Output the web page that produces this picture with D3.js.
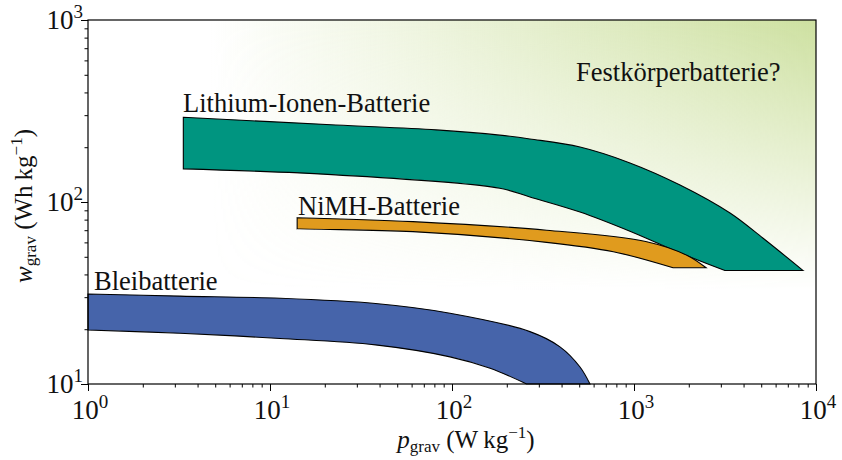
<!DOCTYPE html>
<html>
<head>
<meta charset="utf-8">
<script src="https://cdn.jsdelivr.net/npm/d3@7.9.0/dist/d3.min.js"></script>
<style>
  body { margin: 0; background: #fff; }
  svg text { font-family: "Liberation Serif", "Times New Roman", Times, "DejaVu Serif", serif; fill: #111; }
</style>
</head>
<body>
<svg id="chart" width="842" height="460"></svg>
<script>
// values (p in W/kg, w in Wh/kg)
const liTop = [[3.34, 292], [23, 265], [82, 249], [183, 233], [268, 222], [505, 200.5], [950, 164], [1790, 124], [3370, 87], [5100, 63.4], [8500, 42]];
const liBottom = [[3.34, 152], [23, 141], [183, 119], [268, 106.5], [505, 88], [950, 69], [1790, 52.5], [3160, 42]];
const nimhTop = [[14.1, 82], [61, 78], [331, 70], [1175, 60.5], [1950, 51], [2490, 43.5]];
const nimhBottom = [[14.1, 71], [61, 68.7], [331, 60], [770, 53.3], [1640, 43.5]];
const bleiTop = [[1, 31.2], [3.2, 30.4], [11.35, 29.6], [38, 27.7], [97.5, 24.5], [268, 19.4], [392, 16], [505, 12.4], [573, 10]];
const bleiBottom = [[1, 19.8], [3.2, 19], [11.35, 17.8], [38, 16.4], [97.5, 14.1], [162, 12.2], [257, 10]];

const bands = [
  { name: 'Lithium-Ionen-Batterie', top: liTop, bottom: liBottom, color: '#009580', label: [183, 112] },
  { name: 'NiMH-Batterie', top: nimhTop, bottom: nimhBottom, color: '#e09b1e', label: [298, 215] },
  { name: 'Bleibatterie', top: bleiTop, bottom: bleiBottom, color: '#4664aa', label: [94, 290] }
];

const xMajor = [1, 10, 100, 1000, 10000];
const yMajor = [10, 100, 1000];

const margin = { left: 88, right: 26, top: 20, bottom: 76 };
const width = 842, height = 460;

const svg = d3.select('#chart');
const x = d3.scaleLog().domain([1, 1e4]).range([margin.left, width - margin.right]);
const y = d3.scaleLog().domain([10, 1000]).range([height - margin.bottom, margin.top]);

// background gradient (Festkörper area)
const defs = svg.append('defs');
const hg = defs.append('linearGradient').attr('id', 'hgrad')
  .attr('gradientUnits', 'userSpaceOnUse')
  .attr('x1', 210).attr('x2', x(1e4)).attr('y1', 0).attr('y2', 0);
hg.append('stop').attr('offset', 0).attr('stop-color', '#cde0a0').attr('stop-opacity', 0);
hg.append('stop').attr('offset', 1).attr('stop-color', '#cde0a0').attr('stop-opacity', 1);
const vg = defs.append('linearGradient').attr('id', 'vgrad')
  .attr('gradientUnits', 'userSpaceOnUse')
  .attr('x1', 0).attr('x2', 0).attr('y1', y(1000)).attr('y2', 290);
vg.append('stop').attr('offset', 0).attr('stop-color', '#fff');
vg.append('stop').attr('offset', 1).attr('stop-color', '#000');
defs.append('mask').attr('id', 'vmask')
  .append('rect').attr('x', 0).attr('y', 0).attr('width', width).attr('height', height)
  .attr('fill', 'url(#vgrad)');

svg.append('rect')
  .attr('x', x(1)).attr('y', y(1000))
  .attr('width', x(1e4) - x(1)).attr('height', y(10) - y(1000))
  .attr('fill', 'url(#hgrad)').attr('mask', 'url(#vmask)');

// bands
const line = d3.line().x(d => x(d[0])).y(d => y(d[1])).curve(d3.curveCatmullRom.alpha(0.5));
bands.forEach(b => {
  const topD = line(b.top);
  const botD = line(b.bottom.slice().reverse()).replace(/^M/, 'L');
  svg.append('path')
    .attr('d', topD + botD + 'Z')
    .attr('fill', b.color)
    .attr('stroke', '#000')
    .attr('stroke-width', 1.1);
  svg.append('text')
    .attr('x', b.label[0]).attr('y', b.label[1])
    .attr('font-size', 26.5)
    .text(b.name);
});

svg.append('text')
  .attr('x', 576).attr('y', 81)
  .attr('font-size', 26.5)
  .text('Festkörperbatterie?');

// axes
const minorX = x.ticks().filter(v => !xMajor.includes(v));
const minorY = y.ticks().filter(v => !yMajor.includes(v));

const gx = svg.append('g').attr('transform', `translate(0,${y(10)})`);
gx.call(d3.axisBottom(x).tickValues(xMajor).tickSize(7).tickFormat(''));
gx.call(g => g.append('g').call(d3.axisBottom(x).tickValues(minorX).tickSize(3.5).tickFormat('')));
const gy = svg.append('g').attr('transform', `translate(${x(1)},0)`);
gy.call(d3.axisLeft(y).tickValues(yMajor).tickSize(7).tickFormat(''));
gy.call(g => g.append('g').call(d3.axisLeft(y).tickValues(minorY).tickSize(3.5).tickFormat('')));
svg.selectAll('.domain').remove();
svg.selectAll('.tick line').attr('stroke', '#000').attr('stroke-width', 1);

// frame
svg.append('rect')
  .attr('x', x(1)).attr('y', y(1000))
  .attr('width', x(1e4) - x(1)).attr('height', y(10) - y(1000))
  .attr('fill', 'none').attr('stroke', '#000').attr('stroke-width', 1.2);

// tick labels
function powLabel(sel, exp) {
  sel.append('tspan').text('10');
  sel.append('tspan').attr('dy', -11).attr('font-size', 19).text(exp);
}
xMajor.forEach(v => {
  const t = svg.append('text')
    .attr('x', x(v) + 2).attr('y', y(10) + 35)
    .attr('font-size', 27)
    .attr('text-anchor', 'middle');
  powLabel(t, Math.round(Math.log10(v)));
});
yMajor.forEach(v => {
  const t = svg.append('text')
    .attr('x', x(1) - 5).attr('y', y(v) + 9)
    .attr('font-size', 27)
    .attr('text-anchor', 'end');
  powLabel(t, Math.round(Math.log10(v)));
});

// axis titles
const xt = svg.append('text')
  .attr('x', 466).attr('y', 448)
  .attr('font-size', 25)
  .attr('text-anchor', 'middle');
xt.append('tspan').attr('font-style', 'italic').text('p');
xt.append('tspan').attr('font-size', 17).attr('dy', 4).text('grav');
xt.append('tspan').attr('dy', -4).text(' (W\u2009kg');
xt.append('tspan').attr('font-size', 17).attr('dy', -10).text('\u22121');
xt.append('tspan').attr('dy', 10).text(')');

const yt = svg.append('text')
  .attr('transform', `translate(32,${(y(10) + y(1000)) / 2 + 4}) rotate(-90)`)
  .attr('font-size', 25)
  .attr('text-anchor', 'middle');
yt.append('tspan').attr('font-style', 'italic').text('w');
yt.append('tspan').attr('font-size', 17).attr('dy', 4).text('grav');
yt.append('tspan').attr('dy', -4).text(' (Wh\u2009kg');
yt.append('tspan').attr('font-size', 17).attr('dy', -10).text('\u22121');
yt.append('tspan').attr('dy', 10).text(')');
</script>
</body>
</html>
